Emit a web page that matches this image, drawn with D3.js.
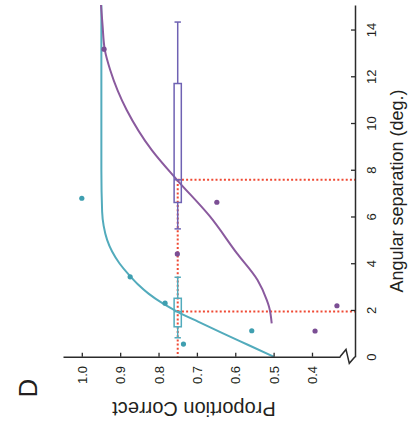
<!DOCTYPE html>
<html>
<head>
<meta charset="utf-8">
<script src="https://cdn.jsdelivr.net/npm/d3@7"></script>
<style>
  body { margin: 0; background: #fff; }
  svg { display: block; }
  text { font-family: "Liberation Sans", Arial, sans-serif; fill: #231f20; }
</style>
</head>
<body>
<svg id="chart" width="417" height="435"></svg>
<script>
// Panel D: proportion correct against angular separation.
// The panel is laid out turned a quarter turn: separation runs up the right edge,
// proportion correct runs along the bottom (1.0 at the left).

const degTicks = [0, 2, 4, 6, 8, 10, 12, 14];
const propTicks = [0.4, 0.5, 0.6, 0.7, 0.8, 0.9, 1.0];

// Fitted psychometric curves (separation in deg, proportion correct)
const fitCyanDeg  = [0, 0.5, 1.0, 1.5, 1.9, 2.3, 2.7, 3.1, 3.5, 4.0, 4.5, 5.0, 5.6, 6.2, 8, 10, 12, 15.05];
const fitCyanProp = [0.5, 0.566, 0.632, 0.697, 0.748, 0.791, 0.826, 0.854, 0.877, 0.902, 0.921, 0.934, 0.943, 0.947, 0.949, 0.949, 0.949, 0.949];

const fitPurpleDeg  = [1.43, 2.14, 2.43, 3.28, 4.43, 6.0, 7.57, 8.85, 10.56, 12.27, 13.13, 14.2, 15.05];
const fitPurpleProp = [0.505, 0.512, 0.518, 0.542, 0.596, 0.666, 0.752, 0.818, 0.883, 0.926, 0.94, 0.946, 0.95];

// Individual observers
const cyanPtDeg  = [6.78, 3.42, 2.29, 1.11, 0.54];
const cyanPtProp = [1.0, 0.874, 0.783, 0.557, 0.735];

const purplePtDeg  = [13.16, 6.61, 4.40, 2.18, 1.10];
const purplePtProp = [0.942, 0.648, 0.751, 0.335, 0.392];

// Threshold distributions (deg) at 75% correct
const boxLevel = 0.75;
const boxSeries = ["cyan", "purple"];
const boxLow  = [0.81, 5.47];
const boxQ1   = [1.28, 6.6];
const boxMed  = [1.93, 7.57];
const boxQ3   = [2.5, 11.69];
const boxHigh = [3.4, 14.32];

const colors = {
  cyan: "#52abbc",
  cyanDot: "#3f9fb0",
  purple: "#8a5a9e",
  purpleDot: "#7b4e94",
  purpleBox: "#6f62b3",
  red: "#ef4a34",
  axis: "#2b2b2b"
};

const svg = d3.select("#chart");

// separation -> vertical position, proportion -> horizontal position
const degScale = d3.scaleLinear().domain([0, 15.05]).range([356.7, 5]);
const propScale = d3.scaleLinear().domain([0.327, 1.049]).range([340, 63]);

const axisX = 355;     // position of the separation axis
const axisY = 356.7;   // position of the proportion axis

// ---- threshold guide lines (dotted red)
const guides = svg.append("g")
  .attr("stroke", colors.red)
  .attr("stroke-width", 2)
  .attr("stroke-dasharray", "2,2.2")
  .attr("fill", "none");

guides.append("line")
  .attr("x1", propScale(boxLevel)).attr("x2", propScale(boxLevel))
  .attr("y1", degScale(d3.max(boxMed))).attr("y2", degScale(0));

guides.selectAll("line.thr")
  .data(boxMed)
  .join("line")
  .attr("class", "thr")
  .attr("x1", propScale(boxLevel)).attr("x2", axisX)
  .attr("y1", d => degScale(d)).attr("y2", d => degScale(d));

// ---- fitted curves
const line = d3.line()
  .x(d => propScale(d[1]))
  .y(d => degScale(d[0]))
  .curve(d3.curveMonotoneY);

svg.append("path")
  .datum(d3.zip(fitCyanDeg, fitCyanProp))
  .attr("d", line)
  .attr("fill", "none")
  .attr("stroke", colors.cyan)
  .attr("stroke-width", 2);

svg.append("path")
  .datum(d3.zip(fitPurpleDeg, fitPurpleProp))
  .attr("d", line)
  .attr("fill", "none")
  .attr("stroke", colors.purple)
  .attr("stroke-width", 2);

// ---- box plots of thresholds
const boxHalf = 3.6, capHalf = 3.2;
boxSeries.forEach((s, i) => {
  const c = s === "cyan" ? colors.cyan : colors.purpleBox;
  const cx = propScale(boxLevel);
  const g = svg.append("g").attr("stroke", c).attr("stroke-width", 1.5).attr("fill", "none");
  // whiskers
  g.append("line").attr("x1", cx).attr("x2", cx).attr("y1", degScale(boxHigh[i])).attr("y2", degScale(boxQ3[i]));
  g.append("line").attr("x1", cx).attr("x2", cx).attr("y1", degScale(boxQ1[i])).attr("y2", degScale(boxLow[i]));
  // caps
  [boxHigh[i], boxLow[i]].forEach(v => {
    g.append("line").attr("x1", cx - capHalf).attr("x2", cx + capHalf)
      .attr("y1", degScale(v)).attr("y2", degScale(v));
  });
  // box
  g.append("rect")
    .attr("x", cx - boxHalf).attr("width", boxHalf * 2)
    .attr("y", degScale(boxQ3[i])).attr("height", degScale(boxQ1[i]) - degScale(boxQ3[i]));
  // median
  g.append("line").attr("x1", cx - boxHalf).attr("x2", cx + boxHalf)
    .attr("y1", degScale(boxMed[i])).attr("y2", degScale(boxMed[i]));
});

// ---- observer points
svg.append("g").selectAll("circle")
  .data(d3.zip(cyanPtDeg, cyanPtProp))
  .join("circle")
  .attr("cx", d => propScale(d[1]))
  .attr("cy", d => degScale(d[0]))
  .attr("r", 2.6)
  .attr("fill", colors.cyanDot);

svg.append("g").selectAll("circle")
  .data(d3.zip(purplePtDeg, purplePtProp))
  .join("circle")
  .attr("cx", d => propScale(d[1]))
  .attr("cy", d => degScale(d[0]))
  .attr("r", 2.6)
  .attr("fill", colors.purpleDot);

// ---- separation axis (right edge)
const degAxis = d3.axisRight(degScale)
  .tickValues(degTicks)
  .tickFormat(d3.format("d"))
  .tickSize(-4)
  .tickSizeOuter(0);

const gDeg = svg.append("g")
  .attr("transform", `translate(${axisX},0)`)
  .call(degAxis)
  .attr("font-family", null).attr("font-size", null);
gDeg.select(".domain").attr("stroke", colors.axis).attr("stroke-width", 1.5);
gDeg.selectAll(".tick line").attr("stroke", colors.axis).attr("stroke-width", 1.3);
gDeg.selectAll(".tick").filter(d => d === 0).select("line").remove();
gDeg.selectAll(".tick text")
  .attr("transform", "rotate(-90)")
  .attr("x", 0).attr("y", 20.7).attr("dy", null)
  .attr("text-anchor", "middle")
  .style("font-size", "13px")
  .attr("fill", "#231f20");

// ---- proportion axis (bottom edge)
const propAxis = d3.axisBottom(propScale)
  .tickValues(propTicks)
  .tickFormat(d3.format(".1f"))
  .tickSize(-4)
  .tickSizeOuter(0);

const gProp = svg.append("g")
  .attr("transform", `translate(0,${axisY})`)
  .call(propAxis)
  .attr("font-family", null).attr("font-size", null);
gProp.select(".domain").attr("stroke", colors.axis).attr("stroke-width", 1.5);
gProp.selectAll(".tick line").attr("stroke", colors.axis).attr("stroke-width", 1.3);
gProp.selectAll(".tick text")
  .attr("transform", "rotate(-90)")
  .attr("x", -18.3).attr("y", 4.6).attr("dy", null)
  .attr("text-anchor", "middle")
  .style("font-size", "13px")
  .attr("fill", "#231f20");

// axis break where the two axes meet
const xEnd = propScale.range()[0];
svg.append("path")
  .attr("d", d3.line()([
    [xEnd, axisY], [xEnd + 6, axisY - 7.3], [xEnd + 9.3, axisY + 6.6], [axisX, axisY]
  ]))
  .attr("fill", "none")
  .attr("stroke", colors.axis)
  .attr("stroke-width", 1.5)
  .attr("stroke-linejoin", "miter");

// ---- titles
svg.append("text")
  .attr("transform", `translate(403,191) rotate(-90)`)
  .attr("text-anchor", "middle")
  .style("font-size", "18px")
  .text("Angular separation (deg.)");

svg.append("text")
  .attr("transform", `translate(194,402) rotate(180)`)
  .attr("text-anchor", "middle")
  .style("font-size", "20px")
  .text("Proportion Correct");

svg.append("text")
  .attr("transform", `translate(37,388) rotate(-90)`)
  .attr("text-anchor", "middle")
  .style("font-size", "26px")
  .text("D");
</script>
</body>
</html>
